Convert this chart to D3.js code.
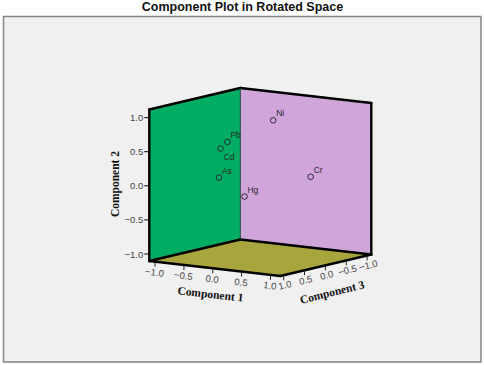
<!DOCTYPE html>
<html>
<head>
<meta charset="utf-8">
<script src="https://cdn.jsdelivr.net/npm/d3@7"></script>
<style>
    html, body { margin: 0; padding: 0; background: #fff; }
    svg { display: block; }
</style>
</head>
<body>
<div id="chart"></div>
<script>
const metals = ['Pb', 'Cd', 'As', 'Hg', 'Ni', 'Cr']
const comp1 = [-0.31, -0.43, -0.53, 0.13, 0.41, 0.77]
const comp2 = [0.61, 0.50, 0.05, -0.12, 0.98, 0.13]
const comp3 = [0.30, 0.30, 0.20, 0.50, 0.20, -0.20]
const tickValues = [-1.0, -0.5, 0.0, 0.5, 1.0]

const width = 484
const height = 365
const svg = d3.select('#chart').append('svg').attr('width', width).attr('height', height)

// back bottom corner of the box, everything is projected from there
const originX = 240.3
const originY = 239.5

const c1Lim = [-1.1, 1.17]
const c2Lim = [-1.1, 1.12]
const c3Lim = [-1.1, 1.08]
const c1X = d3.scaleLinear().domain(c1Lim).range([0, 131])
const c1Y = d3.scaleLinear().domain(c1Lim).range([0, 15])
const c2Y = d3.scaleLinear().domain(c2Lim).range([0, -151.5])
const c3X = d3.scaleLinear().domain(c3Lim).range([0, -91])
const c3Y = d3.scaleLinear().domain(c3Lim).range([0, 21.5])

function project(a, b, c) {
    return [originX + c1X(a) + c3X(c), originY + c1Y(a) + c2Y(b) + c3Y(c)]
}
function facePath(pts) {
    return 'M' + pts.map(p => project(p[0], p[1], p[2]).join(',')).join('L') + 'Z'
}

const labelFont = '"Liberation Sans", Arial, sans-serif'
const axisFont = '"Liberation Serif", "Times New Roman", serif'

svg.append('text')
    .attr('x', 242.5).attr('y', 10.5)
    .attr('text-anchor', 'middle')
    .style('font-family', labelFont)
    .style('font-size', '12.5px')
    .style('font-weight', 'bold')
    .style('fill', '#111')
    .text('Component Plot in Rotated Space')

svg.append('rect')
    .attr('x', 3.5).attr('y', 16.5)
    .attr('width', 477.5).attr('height', 345.5)
    .attr('fill', '#f0f0f0')
    .attr('stroke', '#858585')
    .attr('stroke-width', 1.5)

const [x0, x1] = c1Lim
const [y0, y1] = c2Lim
const [z0, z1] = c3Lim

// walls and floor
svg.append('path')
    .attr('d', facePath([[x0, y0, z0], [x0, y1, z0], [x0, y1, z1], [x0, y0, z1]]))
    .attr('fill', '#00ad63')
svg.append('path')
    .attr('d', facePath([[x0, y0, z0], [x0, y1, z0], [x1, y1, z0], [x1, y0, z0]]))
    .attr('fill', '#cfa5da')
svg.append('path')
    .attr('d', facePath([[x0, y0, z0], [x1, y0, z0], [x1, y0, z1], [x0, y0, z1]]))
    .attr('fill', '#a9a53d')

const edges = [
    [[x0, y0, z1], [x0, y1, z1]],
    [[x0, y1, z1], [x0, y1, z0]],
    [[x0, y1, z0], [x1, y1, z0]],
    [[x1, y1, z0], [x1, y0, z0]],
    [[x1, y0, z0], [x0, y0, z0]],
    [[x0, y0, z0], [x0, y0, z1]],
    [[x0, y0, z1], [x1, y0, z1]],
    [[x1, y0, z1], [x1, y0, z0]]
]
svg.selectAll('.edge')
    .data(edges)
    .join('line')
    .attr('class', 'edge')
    .attr('x1', d => project(...d[0])[0])
    .attr('y1', d => project(...d[0])[1])
    .attr('x2', d => project(...d[1])[0])
    .attr('y2', d => project(...d[1])[1])
    .attr('stroke', '#000')
    .attr('stroke-width', 2.4)
    .attr('stroke-linecap', 'round')

svg.append('line')
    .attr('x1', project(x0, y0, z0)[0]).attr('y1', project(x0, y0, z0)[1])
    .attr('x2', project(x0, y1, z0)[0]).attr('y2', project(x0, y1, z0)[1])
    .attr('stroke', '#1d4a3a')
    .attr('stroke-width', 1)

const fmt = d3.format('.1f')

// component 2 ticks
const t2 = svg.selectAll('.t2').data(tickValues).join('g').attr('class', 't2')
t2.append('line')
    .attr('x1', d => project(x0, d, z1)[0] - 5)
    .attr('x2', d => project(x0, d, z1)[0])
    .attr('y1', d => 254 - (d + 1) * 68.2)
    .attr('y2', d => 254 - (d + 1) * 68.2)
    .attr('stroke', '#000')
t2.append('text')
    .attr('x', d => project(x0, d, z1)[0] - 6)
    .attr('y', d => 254 - (d + 1) * 68.2 + 3.5)
    .attr('text-anchor', 'end')
    .style('font-family', labelFont)
    .style('font-size', '9.5px')
    .style('fill', '#444')
    .text(d => fmt(d))

// component 1 ticks, along the front left floor edge
const t1 = svg.selectAll('.t1').data(tickValues).join('g').attr('class', 't1')
t1.append('line')
    .attr('x1', d => project(d, y0, z1)[0])
    .attr('y1', d => project(d, y0, z1)[1])
    .attr('x2', d => project(d, y0, z1)[0])
    .attr('y2', d => project(d, y0, z1)[1] + 5)
    .attr('stroke', '#222')
t1.append('text')
    .attr('transform', d => {
        const p = project(d, y0, z1)
        return `translate(${p[0] - 1},${p[1] + 14}) rotate(7)`
    })
    .attr('text-anchor', 'middle')
    .style('font-family', labelFont)
    .style('font-size', '9.5px')
    .style('fill', '#444')
    .text(d => fmt(d))

// component 3 ticks, along the front right floor edge
const t3 = svg.selectAll('.t3').data(tickValues).join('g').attr('class', 't3')
t3.append('line')
    .attr('x1', d => project(x1, y0, d)[0])
    .attr('y1', d => project(x1, y0, d)[1])
    .attr('x2', d => project(x1, y0, d)[0])
    .attr('y2', d => project(x1, y0, d)[1] + 5)
    .attr('stroke', '#222')
t3.append('text')
    .attr('transform', d => {
        const p = project(x1, y0, d)
        return `translate(${p[0] + 2},${p[1] + 13}) rotate(-14)`
    })
    .attr('text-anchor', 'middle')
    .style('font-family', labelFont)
    .style('font-size', '9.5px')
    .style('fill', '#444')
    .text(d => fmt(d))

// axis names
function axisTitle(txt, x, y, angle) {
    svg.append('text')
        .attr('transform', `translate(${x},${y}) rotate(${angle})`)
        .attr('text-anchor', 'middle')
        .style('font-family', axisFont)
        .style('font-size', '11.5px')
        .style('font-weight', 'bold')
        .style('fill', '#111')
        .text(txt)
}
axisTitle('Component 1', 210, 298, 6.5)
axisTitle('Component 2', 119, 184, -90)
axisTitle('Component 3', 333, 296, -14)

// points
const points = metals.map((m, i) => ({ name: m, p: project(comp1[i], comp2[i], comp3[i]) }))
svg.selectAll('.dot')
    .data(points)
    .join('circle')
    .attr('class', 'dot')
    .attr('cx', d => d.p[0])
    .attr('cy', d => d.p[1])
    .attr('r', 2.8)
    .attr('fill', 'none')
    .attr('stroke', '#2a2a3a')
    .attr('stroke-width', 1)
svg.selectAll('.name')
    .data(points)
    .join('text')
    .attr('class', 'name')
    .attr('x', d => d.p[0] + 3)
    .attr('y', d => d.p[1] + (d.name === 'Cd' ? 11 : -4))
    .style('font-family', labelFont)
    .style('font-size', '8.5px')
    .style('fill', '#2a2a2a')
    .text(d => d.name)
</script>
</body>
</html>
